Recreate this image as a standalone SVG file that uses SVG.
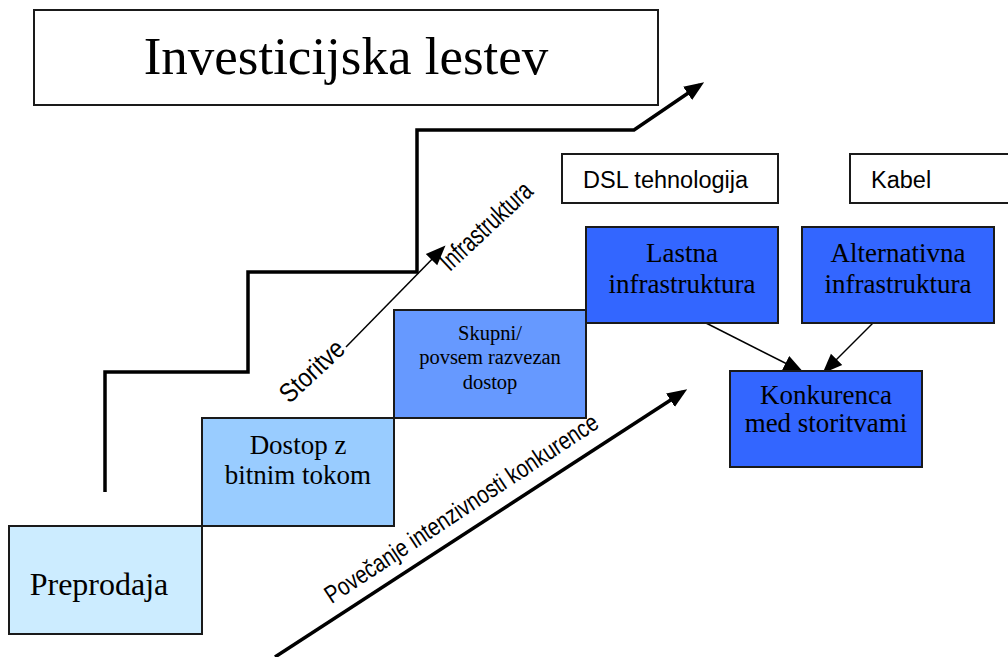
<svg xmlns="http://www.w3.org/2000/svg" width="1008" height="657" viewBox="0 0 1008 657">
<defs>
<style>
.box{stroke:#1a1a1a;stroke-width:2}
.serif{font-family:"Liberation Serif","Times New Roman",serif;fill:#000;text-anchor:middle}
.sans{font-family:"Liberation Sans",Arial,sans-serif;fill:#000}
.thick{fill:none;stroke:#000;stroke-width:3.5}
.thin{fill:none;stroke:#000;stroke-width:1.5}
</style>
<marker id="ahs" markerWidth="20" markerHeight="20" refX="15" refY="10" orient="auto" markerUnits="userSpaceOnUse" viewBox="0 0 20 20">
<path d="M0,2 L20,10 L0,18 z" fill="#000"/>
</marker>
<marker id="ahb" markerWidth="20" markerHeight="20" refX="15" refY="10" orient="auto" markerUnits="userSpaceOnUse" viewBox="0 0 20 20">
<path d="M0,2 L20,10 L0,18 z" fill="#000"/>
</marker>
</defs>
<rect width="1008" height="657" fill="#fff"/>

<g id="title">
<rect class="box" x="34" y="10" width="624" height="95" fill="#fff"/>
<text class="serif" x="346" y="74" font-size="53">Investicijska lestev</text>
</g>

<g id="connectors">
<path class="thick" d="M105,492 V372 H248 V272 H417 V130 H634 L700,85" marker-end="url(#ahb)"/>
<path class="thin" d="M346,347 L442,249" marker-end="url(#ahs)"/>
<path class="thick" d="M275,657 L683,392" marker-end="url(#ahb)"/>
<path class="thin" d="M706,323 L799,370" marker-end="url(#ahs)"/>
<path class="thin" d="M873,323 L826,370" marker-end="url(#ahs)"/>
</g>

<g id="preprodaja">
<rect class="box" x="9" y="526" width="193" height="108" fill="#CCECFF"/>
<text class="serif" x="99" y="595" font-size="32">Preprodaja</text>
</g>

<g id="dostop">
<rect class="box" x="202" y="418" width="192" height="108" fill="#99CCFF"/>
<text class="serif" x="298" y="454" font-size="27">Dostop z</text>
<text class="serif" x="298" y="484" font-size="27">bitnim tokom</text>
</g>

<g id="skupni">
<rect class="box" x="394" y="310" width="192" height="108" fill="#6699FF"/>
<text class="serif" x="490" y="340" font-size="20.5">Skupni/</text>
<text class="serif" x="490" y="364" font-size="20.5">povsem razvezan</text>
<text class="serif" x="490" y="389" font-size="20.5">dostop</text>
</g>

<g id="dsl">
<rect class="box" x="562" y="154" width="216" height="49" fill="#fff"/>
<text class="sans" x="583" y="188" font-size="23.5">DSL tehnologija</text>
</g>

<g id="kabel">
<rect class="box" x="850" y="154" width="170" height="49" fill="#fff"/>
<text class="sans" x="871" y="188" font-size="23.5">Kabel</text>
</g>

<g id="lastna">
<rect class="box" x="586" y="227" width="192" height="96" fill="#3366FF"/>
<text class="serif" x="682" y="262" font-size="27">Lastna</text>
<text class="serif" x="682" y="293" font-size="27">infrastruktura</text>
</g>

<g id="alternativna">
<rect class="box" x="802" y="227" width="192" height="96" fill="#3366FF"/>
<text class="serif" x="898" y="262" font-size="27">Alternativna</text>
<text class="serif" x="898" y="293" font-size="27">infrastruktura</text>
</g>

<g id="konkurenca">
<rect class="box" x="730" y="371" width="192" height="96" fill="#3366FF"/>
<text class="serif" x="826" y="404" font-size="27">Konkurenca</text>
<text class="serif" x="826" y="432" font-size="27">med storitvami</text>
</g>

<g id="labels">
<text class="sans" font-size="27" text-anchor="middle" textLength="78" lengthAdjust="spacingAndGlyphs" transform="translate(312,371) rotate(-43)" y="9">Storitve</text>
<text class="sans" font-size="27" text-anchor="middle" textLength="116" lengthAdjust="spacingAndGlyphs" transform="translate(486,226) rotate(-43)" y="9">Infrastruktura</text>
<text class="sans" font-size="25" text-anchor="middle" textLength="322" lengthAdjust="spacingAndGlyphs" transform="translate(461,508) rotate(-33.4)" y="9">Povečanje intenzivnosti konkurence</text>
</g>
</svg>
